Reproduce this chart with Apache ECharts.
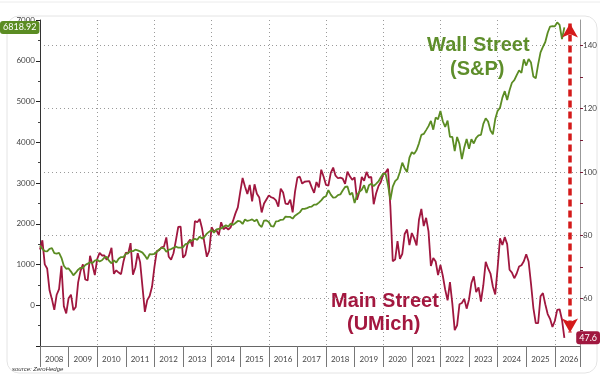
<!DOCTYPE html>
<html>
<head>
<meta charset="utf-8">
<script src="https://cdn.jsdelivr.net/npm/echarts@6/dist/echarts.min.js"></script>
<style>
  html, body { margin: 0; padding: 0; background: #fff; }
  #main { width: 600px; height: 377px; }
</style>
</head>
<body>
<div id="main"></div>
<script>
// monthly values, first point = Dec 2007, last = Apr 2026
const startYear = 2008;

const umich = [
  75.5,
  78.4,70.8,69.5,62.6,59.8,56.4,61.2,63.0,70.3,57.6,55.3,60.1,
  61.2,56.3,57.3,65.1,68.7,70.8,66.0,65.7,73.5,70.6,67.4,72.5,
  74.4,73.6,73.6,72.2,73.6,76.0,67.8,68.9,68.2,67.7,71.6,74.5,
  74.2,77.5,67.5,69.8,74.3,71.5,63.7,55.8,59.5,60.8,63.7,69.9,
  75.0,75.3,76.2,76.4,79.3,73.2,72.3,74.3,78.3,82.6,82.7,72.9,
  73.8,77.6,78.6,76.4,84.5,84.1,85.1,82.1,77.5,73.2,75.1,82.5,
  81.2,81.6,80.0,84.1,81.9,82.5,81.8,82.5,84.6,86.9,88.8,93.6,
  98.1,95.4,93.0,95.9,90.7,96.1,93.1,91.9,87.2,90.0,91.3,92.6,
  92.0,91.7,91.0,89.0,94.7,93.5,90.0,89.8,91.2,87.2,93.8,98.2,
  98.5,96.3,96.9,97.0,97.1,95.1,93.4,96.8,95.1,100.7,98.5,95.9,
  95.7,99.7,101.4,98.8,98.0,98.2,97.9,96.2,100.1,98.6,97.5,98.3,
  91.2,93.8,98.4,97.2,100.0,98.2,98.4,89.8,93.2,95.5,96.8,99.3,
  99.8,101.0,89.1,71.8,72.3,78.1,72.5,74.1,80.4,81.8,76.9,80.7,
  79.0,76.8,84.9,88.3,82.9,85.5,81.2,70.3,72.8,71.7,67.4,70.6,
  67.2,62.8,59.4,65.2,58.4,50.0,51.5,58.2,58.6,59.9,56.8,59.7,
  64.9,67.0,62.0,63.5,59.0,64.2,71.6,69.5,67.9,63.8,61.3,69.7,
  79.0,76.9,79.4,77.2,69.1,68.2,66.4,67.9,70.1,70.5,71.8,74.0,
  71.7,64.7,57.0,52.2,52.2,60.7,61.7,58.2,55.1,53.6,51.0,52.9,
  56.4,56.6,53.3,47.6
];

const spx = [
  1468,
  1378,1330,1322,1385,1400,1280,1267,1283,1165,969,896,903,
  826,735,798,873,919,919,987,1021,1057,1036,1096,1115,
  1074,1104,1169,1187,1089,1031,1102,1049,1141,1183,1181,1258,
  1286,1327,1326,1364,1345,1321,1292,1219,1131,1253,1247,1258,
  1312,1366,1408,1398,1310,1362,1379,1407,1441,1412,1416,1426,
  1498,1515,1569,1598,1631,1606,1686,1633,1682,1757,1806,1848,
  1783,1859,1872,1884,1924,1960,1931,2003,1972,2018,2068,2059,
  1995,2105,2068,2086,2107,2063,2104,1972,1920,2079,2080,2044,
  1940,1932,2060,2065,2097,2099,2174,2171,2168,2126,2199,2239,
  2279,2364,2363,2384,2412,2423,2470,2472,2519,2575,2648,2674,
  2824,2714,2641,2648,2705,2718,2816,2902,2914,2712,2760,2507,
  2704,2784,2834,2946,2752,2942,2980,2926,2977,3038,3141,3231,
  3226,2954,2585,2912,3044,3100,3271,3500,3363,3270,3622,3756,
  3714,3811,3973,4181,4204,4298,4395,4523,4308,4605,4567,4766,
  4516,4374,4530,4132,4132,3785,4130,3955,3586,3872,4080,3840,
  4077,3970,4109,4169,4180,4450,4589,4508,4288,4194,4568,4770,
  4846,5096,5254,5036,5278,5460,5522,5648,5762,5705,6032,5882,
  6041,5955,5612,5569,5912,6205,6339,6460,6688,6840,6849,6845,
  6940,6879,6529,6818.92
];

const rightTicks = [50,60,70,80,90,100,110,120,130,140];
const rightLabels = [60,80,100,120,140];

// arrow annotation in data space (year, UMich scale)
const arrowYear = 2026.53;
const arrowTop = 146.9;
const arrowBottom = 49.3;

const xMax = 2026.88;
const green = '#5b8c23';
const red = '#a0173f';

function pairs(arr) {
  return arr.map((v, i) => [startYear + i / 12, v]);
}

const lastSpx = spx[spx.length - 1];
const lastUmich = umich[umich.length - 1];

const chart = echarts.init(document.getElementById('main'));
chart.setOption({
  animation: false,
  grid: { left: 40, right: 20, top: 20, bottom: 31, containLabel: false },
  xAxis: [
    {
      type: 'value', min: startYear, max: xMax, interval: 1,
      axisLine: { onZero: false, lineStyle: { color: '#666', width: 1 } },
      axisTick: { show: true, length: 21, lineStyle: { color: '#777' } },
      axisLabel: {
        formatter: v => Number.isInteger(v) ? String(v) : '',
        color: '#444', fontFamily: 'Lato', fontSize: 8, margin: 9,
        padding: [0, 0, 0, 28.4]
      },
      splitLine: { show: false }
    },
    {
      type: 'value', min: startYear, max: xMax, interval: 2,
      axisLine: { show: false, onZero: false }, axisTick: { show: false }, axisLabel: { show: false },
      splitLine: { show: true, lineStyle: { type: [1, 3], color: '#9a9a9a', width: 1 } }
    }
  ],
  yAxis: [
    {
      type: 'value', position: 'left', min: -1000, max: 7000, interval: 1000,
      axisLine: { show: true, onZero: false, lineStyle: { color: '#333' } },
      axisTick: { show: true, length: 4, lineStyle: { color: '#222' } },
      minorTick: { show: true, splitNumber: 2, length: 2, lineStyle: { color: '#444' } },
      axisLabel: {
        formatter: v => v < 0 ? '' : String(v),
        color: '#444', fontFamily: 'Lato', fontSize: 8, margin: 5
      },
      splitLine: { show: false },
      axisPointer: {
        show: true, value: lastSpx, status: 'show', snap: false, triggerTooltip: false,
        lineStyle: { opacity: 0 },
        label: {
          show: true, formatter: p => Number(p.value).toFixed(2),
          backgroundColor: green, color: '#fff', fontFamily: 'Lato', fontSize: 9,
          padding: [2, 3, 2, 3], borderRadius: 3, margin: 2
        }
      }
    },
    {
      type: 'value', position: 'right', min: 45, max: 148,
      axisLine: { show: true, onZero: false, lineStyle: { color: '#999' } },
      axisTick: { show: true, length: 3, customValues: rightTicks, lineStyle: { color: '#7a1a35' } },
      axisLabel: { customValues: rightLabels, color: '#444', fontFamily: 'Lato', fontSize: 8, margin: 3 },
      splitLine: { show: false },
      axisPointer: {
        show: true, value: lastUmich, status: 'show', snap: false, triggerTooltip: false,
        lineStyle: { opacity: 0 },
        label: {
          show: true, formatter: p => Number(p.value).toFixed(1),
          backgroundColor: red, color: '#fff', fontFamily: 'Lato', fontSize: 9,
          padding: [2, 3, 2, 3], borderRadius: 3, margin: 2
        }
      }
    },
    {
      type: 'value', position: 'right', min: 45, max: 148,
      axisLine: { show: false, onZero: false },
      axisTick: { show: false, customValues: rightLabels },
      axisLabel: { show: false, customValues: rightLabels },
      splitLine: { show: true, lineStyle: { type: [1, 3], color: '#9a9a9a', width: 1 } }
    }
  ],
  series: [
    {
      name: 'Main Street (UMich)', type: 'line', xAxisIndex: 0, yAxisIndex: 1,
      data: pairs(umich), showSymbol: false, symbol: 'none',
      lineStyle: { color: red, width: 1.8 }, z: 3,
      markLine: {
        silent: true, symbol: ['arrow', 'arrow'], symbolSize: [12, 14],
        label: { show: false },
        lineStyle: { color: '#d41a1a', width: 3.5, type: [7, 4] },
        data: [[{ coord: [arrowYear, arrowTop] }, { coord: [arrowYear, arrowBottom] }]]
      }
    },
    {
      name: 'Wall Street (S&P)', type: 'line', xAxisIndex: 0, yAxisIndex: 0,
      data: pairs(spx), showSymbol: false, symbol: 'none',
      lineStyle: { color: green, width: 1.8 }, z: 4
    }
  ],
  graphic: [
    { type: 'line', silent: true, z: -10, shape: { x1: 0, y1: 2, x2: 600, y2: 2 }, style: { stroke: '#ececec', lineWidth: 1 } },
    { type: 'rect', silent: true, z: -10, shape: { x: 7, y: 16, width: 590, height: 357, r: 12 }, style: { fill: 'none', stroke: '#e4e4e4', lineWidth: 1 } },
    { type: 'text', left: 427, top: 35, style: { text: 'Wall Street', font: 'bold 20px "Liberation Sans"', fill: '#5e8e2b' } },
    { type: 'text', left: 450, top: 59, style: { text: '(S&P)', font: 'bold 20px "Liberation Sans"', fill: '#5e8e2b' } },
    { type: 'text', left: 331, top: 291, style: { text: 'Main Street', font: 'bold 20px "Liberation Sans"', fill: '#a3173f' } },
    { type: 'text', left: 347, top: 314, style: { text: '(UMich)', font: 'bold 20px "Liberation Sans"', fill: '#a3173f' } },
    { type: 'text', left: 12, top: 366, style: { text: 'source: ZeroHedge', font: 'italic 6px "Liberation Sans"', fill: '#333' } }
  ]
});
</script>
</body>
</html>
